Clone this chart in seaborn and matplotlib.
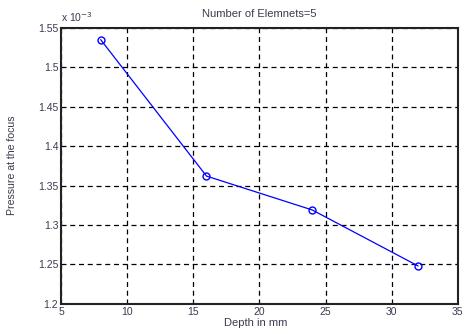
import matplotlib
matplotlib.use("Agg")
import matplotlib.pyplot as plt
import seaborn as sns
import pandas as pd

depth = [8, 16, 24, 32]
pressure = [1.535, 1.362, 1.319, 1.248]  # x 10^-3
xticks = [5, 10, 15, 20, 25, 30, 35]
yticks = [1.2, 1.25, 1.3, 1.35, 1.4, 1.45, 1.5, 1.55]

df = pd.DataFrame({"depth": depth, "pressure": pressure})

sns.set_style("white")
plt.rcParams['font.family'] = ['Liberation Sans', 'DejaVu Sans']

fig = plt.figure(figsize=(4.62, 3.31), dpi=100)
ax = fig.add_axes([0.132, 0.082, 0.859, 0.834])

sns.lineplot(data=df, x="depth", y="pressure", ax=ax, color="blue",
             linewidth=0.9, marker="o", markersize=5,
             markerfacecolor="none", markeredgecolor="blue", markeredgewidth=1.0)

ax.set_xlim(5, 35)
ax.set_ylim(1.2, 1.55)
ax.set_xticks(xticks)
ax.set_yticks(yticks)
ax.set_xticklabels([str(v) for v in xticks])
ax.set_yticklabels(["1.2", "1.25", "1.3", "1.35", "1.4", "1.45", "1.5", "1.55"])
ax.grid(True, color="black", linestyle=(0, (4, 3)), linewidth=0.9)
ax.tick_params(axis="both", direction="in", length=3, labelsize=7.5,
               colors="black", labelcolor="#3a3a50", pad=2)
for s in ax.spines.values():
    s.set_color("#222222")
    s.set_linewidth(1.5)

ax.set_xlabel("Depth in mm", fontsize=8, color="#3a3a50")
ax.set_ylabel("Pressure at the focus", fontsize=7.6, color="#3a3a50")
ax.yaxis.set_label_coords(-0.111, 0.503)
ax.xaxis.set_label_coords(0.49, -0.05)
ax.set_title("Number of Elemnets=5", fontsize=8, color="#3a3a50", pad=8)
ax.text(0.0, 1.012, r"x 10$^{-3}$", transform=ax.transAxes, fontsize=7.5,
        color="#3a3a50", ha="left", va="bottom")

fig.savefig("out.png", dpi=100)
